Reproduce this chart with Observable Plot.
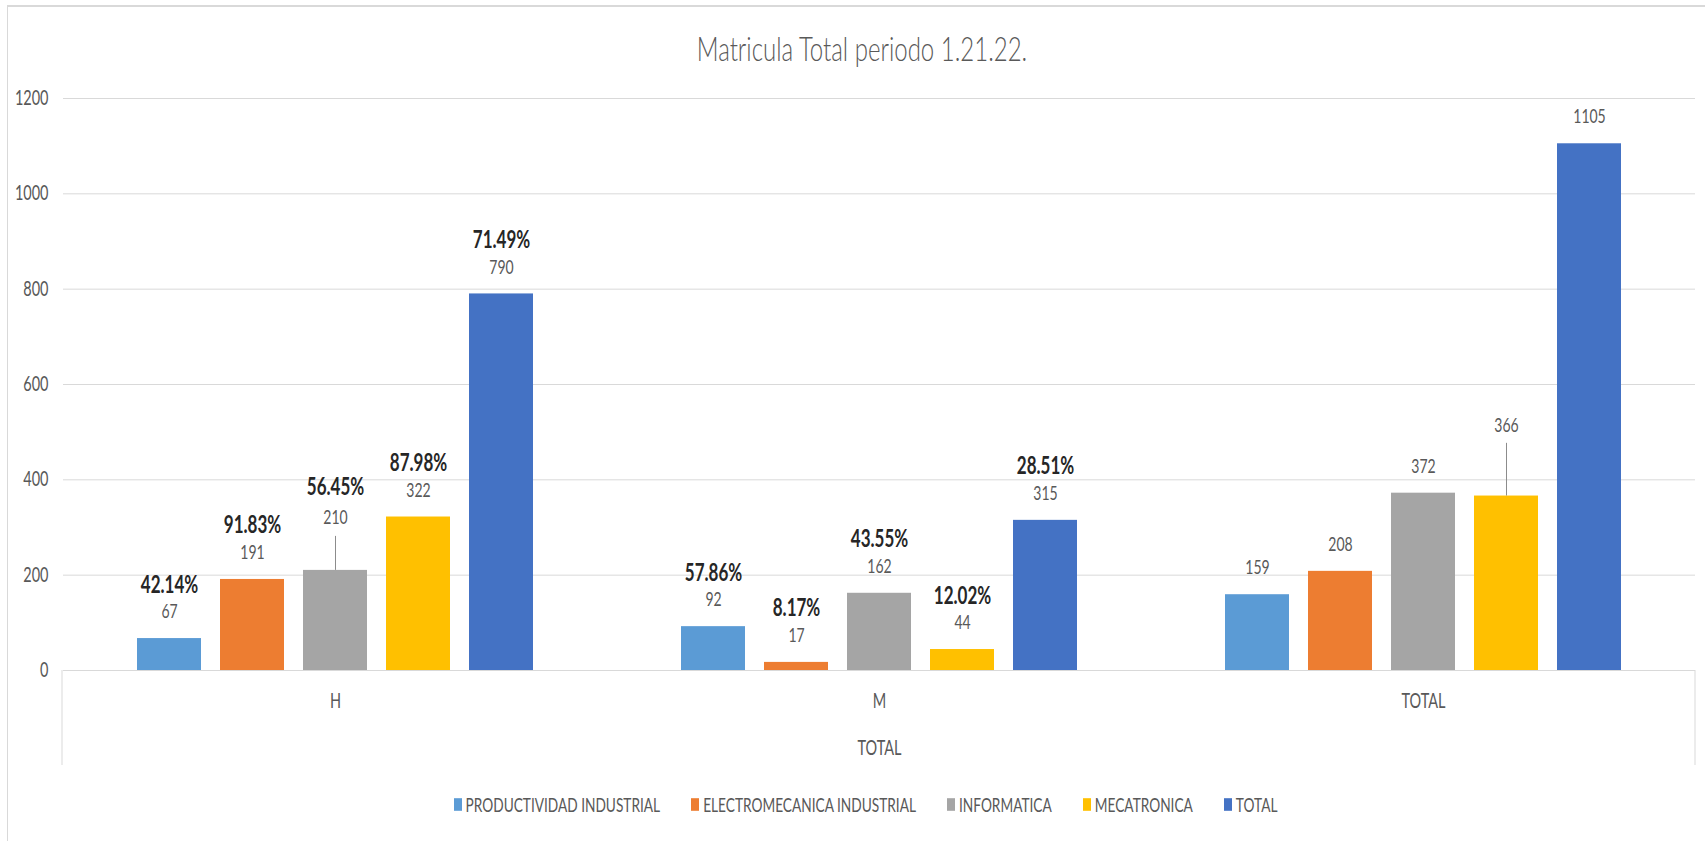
<!DOCTYPE html>
<html>
<head>
<meta charset="utf-8">
<script src="https://cdn.jsdelivr.net/npm/d3@7"></script>
<script src="https://cdn.jsdelivr.net/npm/@observablehq/plot@0.6"></script>
<style>
html, body { margin: 0; padding: 0; background: #fff; }
#wrap { position: relative; width: 1705px; height: 841px; overflow: hidden; font-family: Lato, "Open Sans", sans-serif; }
#frame { position: absolute; left: 7px; top: 5px; width: 1760px; height: 900px; border-left: 1px solid #d9d9d9; border-top: 2px solid #d9d9d9; }
#title { position: absolute; left: 0; top: 34px; width: 1724px; text-align: center; font-size: 24px; line-height: 30px; color: #595959; transform: scaleY(1.35); font-weight: 300; }
#chart { position: absolute; left: 0; top: 0; }
#legend { position: absolute; left: 0; top: 788px; width: 1731px; transform: scaleY(1.4); }
#legend .lg-swatches { justify-content: center; font-family: Lato, "Open Sans", sans-serif; font-size: 13.7px; color: #595959; margin: 0; min-height: 33px; }
#legend .lg-swatch { margin-right: 31px; }
#legend .lg-swatch:last-child { margin-right: 0; }
#legend .lg-swatch svg { margin-right: 4px; }
</style>
</head>
<body>
<div id="wrap">
  <div id="frame"></div>
  <div id="title">Matricula Total periodo 1.21.22.</div>
  <div id="chart"></div>
  <div id="legend"></div>
</div>
<script>
// ---- data ----
const groups = ["H", "M", "TOTAL"];
const series = ["PRODUCTIVIDAD INDUSTRIAL", "ELECTROMECANICA INDUSTRIAL", "INFORMATICA", "MECATRONICA", "TOTAL"];
const valuesH = [67, 191, 210, 322, 790];
const valuesM = [92, 17, 162, 44, 315];
const valuesTotal = [159, 208, 372, 366, 1105];
const pctH = ["42.14%", "91.83%", "56.45%", "87.98%", "71.49%"];
const pctM = ["57.86%", "8.17%", "43.55%", "12.02%", "28.51%"];
const pctTotal = [null, null, null, null, null];
const yTicks = [0, 200, 400, 600, 800, 1000, 1200];
const colors = ["#5B9BD5", "#ED7D31", "#A5A5A5", "#FFC000", "#4472C4"];
const axisTitle = "TOTAL";

// labels moved by hand in the original (with leader lines)
const movedLabels = [
  { group: "H", series: "INFORMATICA", lift: 52.7, leader: 34, pctGap: 30 },
  { group: "TOTAL", series: "MECATRONICA", lift: 70, leader: 52.7, pctGap: 27 }
];
const LIFT = 26.5, PCT_GAP = 27;

const valuesByGroup = [valuesH, valuesM, valuesTotal];
const pctByGroup = [pctH, pctM, pctTotal];
const rows = [];
groups.forEach((g, gi) => series.forEach((s, si) => rows.push({
  group: g, series: s, value: valuesByGroup[gi][si], pct: pctByGroup[gi][si]
})));

const isMoved = d => movedLabels.some(m => m.group === d.group && m.series === d.series);
const pos = { fx: "group", x: "series", y: "value" };
const valStyle = { fill: "#595959", fontSize: 14 };
const pctStyle = { fill: "#262626", fontSize: 17, fontWeight: "bold" };

const W = 1705, H = 770;
const marks = [
  Plot.ruleY(yTicks, { y: d => d, stroke: "#d9d9d9" }),
  Plot.barY(rows, { ...pos, fill: "series" }),
  Plot.text(rows.filter(d => !isMoved(d)), { ...pos, text: d => String(d.value), dy: -LIFT, ...valStyle }),
  Plot.text(rows.filter(d => d.pct && !isMoved(d)), { ...pos, text: "pct", dy: -(LIFT + PCT_GAP), ...pctStyle })
];
movedLabels.forEach(m => {
  const data = rows.filter(d => d.group === m.group && d.series === m.series);
  marks.push(Plot.ruleX(data, { fx: "group", x: "series", y1: "value", y2: "value", insetTop: -m.leader, stroke: "#8c8c8c", strokeWidth: 1 }));
  marks.push(Plot.text(data, { ...pos, text: d => String(d.value), dy: -m.lift, ...valStyle }));
  marks.push(Plot.text(data.filter(d => d.pct), { ...pos, text: "pct", dy: -(m.lift + m.pctGap), ...pctStyle }));
});

const plot = Plot.plot({
  width: W, height: H,
  marginLeft: 62, marginRight: 10, marginTop: 98, marginBottom: 100,
  style: { fontFamily: "Lato, 'Open Sans', sans-serif", fontSize: "14.5px", color: "#595959", background: "transparent", overflow: "visible" },
  fx: { domain: groups, padding: 0, label: axisTitle, labelAnchor: "center", labelOffset: 84.6, tickSize: 0, tickPadding: 23.5 },
  x: { domain: series, paddingInner: 0.227, paddingOuter: 0.87, axis: null },
  y: { domain: [0, 1200], ticks: yTicks, tickFormat: d => String(d), label: null, tickSize: 0, tickPadding: 15 },
  color: { domain: series, range: colors },
  marks
});

// category-axis box sides
const fxRange = plot.scale("fx").range;
const y0 = plot.scale("y").apply(0);
d3.select(plot).append("g").attr("stroke", "#d9d9d9")
  .selectAll("line").data([fxRange[0], fxRange[1]]).join("line")
  .attr("x1", d => d).attr("x2", d => d).attr("y1", y0).attr("y2", y0 + 95);

// the original's text is drawn tall and narrow: stretch every text vertically about its anchor
const SY = 1.4;
plot.querySelectorAll("text").forEach(t => {
  const x = parseFloat(t.getAttribute("x")) || 0, y = parseFloat(t.getAttribute("y")) || 0;
  const tr = t.getAttribute("transform") || "";
  t.setAttribute("transform", `${tr} translate(${x},${y}) scale(1,${SY}) translate(${-x},${-y})`);
});

document.getElementById("chart").appendChild(plot);

const legend = Plot.legend({ color: { domain: series, range: colors }, swatchWidth: 8, swatchHeight: 9, className: "lg" });
document.getElementById("legend").appendChild(legend);
</script>
</body>
</html>
